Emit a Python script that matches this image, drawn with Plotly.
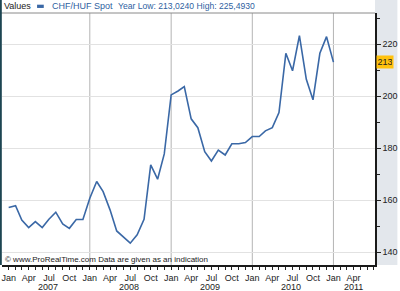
import plotly.graph_objects as go

dates = pd_dates = None
import pandas as pd

months = pd.date_range("2007-01-01", "2011-01-01", freq="MS").strftime("%Y-%m-%d").tolist()
values = [157.2, 157.9, 152.4, 149.5, 151.8, 149.5, 152.7, 155.4, 150.9, 149.2, 152.6, 152.6,
          160.8, 167.2, 163.3, 156.3, 148.2, 146.0, 143.5, 146.7, 152.7, 173.6, 168.1, 177.8,
          200.5, 202.0, 203.7, 191.3, 187.9, 178.7, 175.1, 179.3, 177.4, 181.7, 181.7, 182.2,
          184.5, 184.5, 186.7, 187.9, 193.7, 216.5, 209.8, 223.3, 206.5, 198.6, 216.5, 222.9,
          213.1]

y_ticks = [140, 160, 180, 200, 220]
month_tick_dates = pd.date_range("2007-01-01", "2011-04-01", freq="QS").strftime("%Y-%m-%d").tolist()
month_tick_text = [pd.Timestamp(d).strftime("%b") for d in month_tick_dates]
years = ["2007", "2008", "2009", "2010", "2011"]
year_label_dates = ["2007-06-25", "2008-06-25", "2009-06-25", "2010-06-25", "2011-04-01"]
year_lines = ["2008-01-01", "2009-01-01", "2010-01-01", "2011-01-01"]

series_name = "CHF/HUF Spot"
info_text = "Year Low: 213,0240 High: 225,4930"

LINE = "#3a68a6"
TXT = "#2f5f9f"
FONT = "Liberation Sans, Arial, sans-serif"

fig = go.Figure()
fig.add_trace(go.Scatter(x=months, y=values, mode="lines",
                         line=dict(color=LINE, width=1.6), name=series_name,
                         showlegend=False, hoverinfo="skip"))

shapes = []
# right strip background
shapes.append(dict(type="rect", xref="paper", yref="paper", x0=1, x1=1.06, y0=0, y1=1.06,
                   fillcolor="#e3e7ec", line=dict(width=0), layer="below"))
# vertical year grid lines
for d in year_lines:
    shapes.append(dict(type="line", xref="x", yref="paper", x0=d, x1=d, y0=0, y1=1,
                       line=dict(color="#b4b4b4", width=1), layer="below"))
# top frame line
shapes.append(dict(type="line", xref="paper", yref="paper", x0=-0.006, x1=1, y0=1, y1=1,
                   line=dict(color="#8a8a8a", width=1)))
# left dark border
shapes.append(dict(type="rect", xref="paper", yref="paper", x0=-0.0055, x1=-0.0005, y0=0, y1=1.053,
                   fillcolor="#1d4552", line=dict(width=0)))
# legend dash
shapes.append(dict(type="rect", xref="paper", yref="paper", x0=0.094, x1=0.112, y0=1.02, y1=1.033,
                   fillcolor=LINE, line=dict(width=0)))

annotations = []
annotations.append(dict(text="Values", xref="paper", yref="paper", x=0.0, y=1.028,
                        xanchor="left", yanchor="middle", showarrow=False,
                        font=dict(family=FONT, size=9, color="#222")))
annotations.append(dict(text=series_name, xref="paper", yref="paper", x=0.128, y=1.028,
                        xanchor="left", yanchor="middle", showarrow=False,
                        font=dict(family=FONT, size=9, color=TXT)))
annotations.append(dict(text=info_text, xref="paper", yref="paper", x=0.305, y=1.028,
                        xanchor="left", yanchor="middle", showarrow=False,
                        font=dict(family=FONT, size=8.6, color=TXT)))
for yr, d in zip(years, year_label_dates):
    annotations.append(dict(text=yr, xref="x", yref="paper", x=d, y=-0.086,
                            xanchor="center", yanchor="middle", showarrow=False,
                            font=dict(family=FONT, size=9, color="#222")))
annotations.append(dict(text="© www.ProRealTime.com Data are given as an indication",
                        xref="paper", yref="paper", x=0.004, y=0.02,
                        xanchor="left", yanchor="middle", showarrow=False,
                        font=dict(family=FONT, size=8, color="#222")))
last_val = values[-1]
annotations.append(dict(text=f"{last_val:.0f}", xref="paper", yref="y", x=1.002, y=last_val,
                        xanchor="left", yanchor="middle", showarrow=False,
                        bgcolor="#ffc20e", borderpad=1, width=14,
                        font=dict(family=FONT, size=9, color="#222")))

fig.update_layout(
    width=400, height=291,
    margin=dict(l=2, r=17, t=13, b=26),
    paper_bgcolor="white", plot_bgcolor="white",
    font=dict(family=FONT, size=9, color="#222"),
    shapes=shapes, annotations=annotations,
    xaxis=dict(type="date", range=["2006-12-02", "2011-07-07"],
               tickmode="array", tickvals=month_tick_dates, ticktext=month_tick_text,
               ticks="outside", ticklen=3, tickcolor="#222", showgrid=False,
               showline=True, linecolor="#1a1a1a", linewidth=1.5,
               minor=dict(tick0="2007-01-01", dtick="M1", ticks="outside", ticklen=3,
                          tickcolor="#222", showgrid=False),
               tickfont=dict(family=FONT, size=9, color="#222"), fixedrange=True),
    yaxis=dict(side="right", range=[135.1, 232.0], tickmode="array", tickvals=y_ticks,
               ticks="outside", ticklen=4, tickcolor="#222",
               showgrid=True, gridcolor="#e2e2e2", gridwidth=1,
               showline=True, linecolor="#1a1a1a", linewidth=1.5,
               minor=dict(dtick=10, tick0=130, ticks="outside", ticklen=3, tickcolor="#222", showgrid=False),
               tickfont=dict(family=FONT, size=9, color="#222"), zeroline=False, fixedrange=True),
)

fig.write_html("out.html")
